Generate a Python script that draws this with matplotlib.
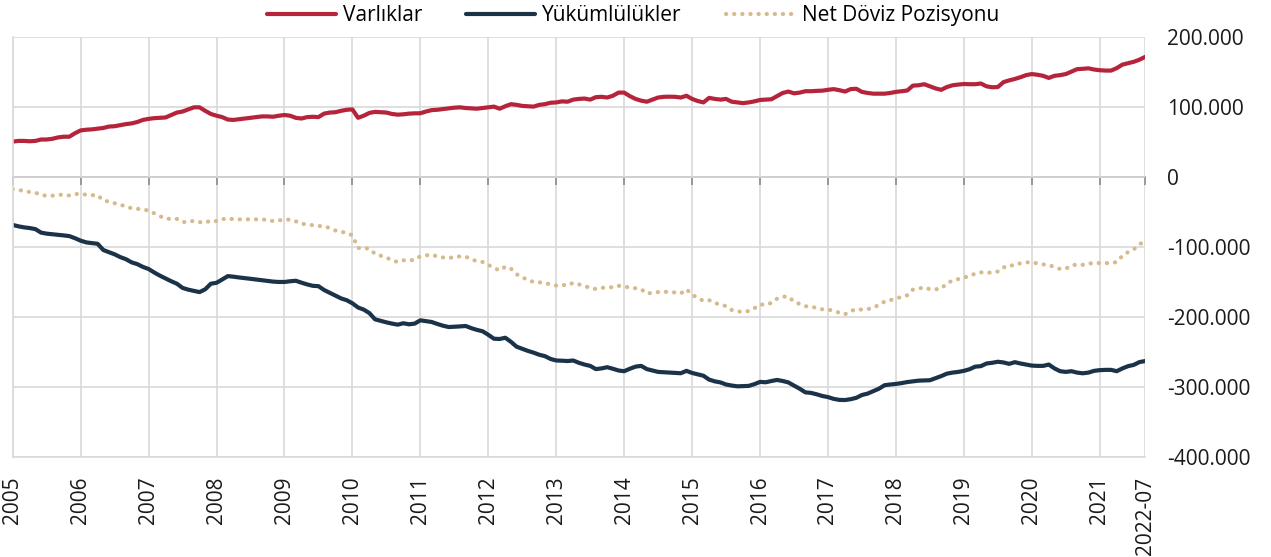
import numpy as np
import matplotlib
matplotlib.use('Agg')
from matplotlib import pyplot as plt
from matplotlib.ticker import FuncFormatter

plt.rcParams['font.family'] = ['Open Sans', 'DejaVu Sans']
plt.rcParams['font.size'] = 15

# aylık seriler (bin), 2005-01 ... son gözlem
varliklar = [
    51, 52, 52, 51.5, 52, 54, 54, 55, 57, 58, 58, 63,
    67, 68, 68.5, 69.5, 70.5, 72.5, 73, 74.5, 76, 77, 79, 82,
    83.5, 84.5, 85, 85.5, 89, 92.5, 94, 97, 100, 100, 95, 90.5,
    88, 86, 82.5, 82, 83, 84, 85, 86, 87, 87, 86.5, 88,
    89, 88, 85, 84, 86, 86.5, 86, 91, 92.5, 93, 95, 96.5,
    97, 85, 88, 92, 93.5, 93, 92.5, 90.5, 89.5, 90, 91, 91.4,
    91.5, 94, 96, 96.5, 97.5, 98.5, 99.5, 100, 99, 98.5, 98, 99,
    100, 101, 98, 101.5, 104.5, 103.5, 102, 101.5, 101, 103.5, 104.5, 106.5,
    107, 108.5, 108, 111, 112, 112.5, 111, 114.5, 115, 114, 116.5, 121,
    121, 116, 112, 109.5, 108, 111, 114, 115, 115.2, 115, 114, 116.5,
    112, 109, 107, 113.5, 112, 111, 112, 108, 107, 106, 107, 108.5,
    110.5, 111, 111.5, 116, 120.5, 122.5, 120, 121, 123, 123, 123.5, 123.8,
    125, 126, 124.5, 122.5, 126, 126.5, 122, 120.5, 119.5, 119.5, 119.5, 120.5,
    122, 123, 124, 131, 131.5, 133, 130, 127, 125, 129, 131.5, 132.5,
    133.3, 133, 133, 134, 130, 128.6, 129, 136, 138.5, 140.5, 143, 146,
    147.5, 146.5, 145, 142, 145, 146, 147.5, 151, 154.5, 155, 155.7, 154,
    153, 152.5, 152.5, 156, 161, 163, 165, 168, 172,
]
yukumlulukler = [
    -68, -70, -71.5, -72.5, -74, -79, -80.5, -81.3, -82, -83, -84, -87,
    -90.5, -93, -94, -95, -103.8, -107, -110, -114, -117, -121.5, -124, -128,
    -131, -136, -140.5, -144.5, -148.5, -152, -158, -160.5, -162.2, -164, -160, -152,
    -150.7, -146, -141.1, -142, -143.1, -144, -145, -146, -147, -148, -149, -149.5,
    -149.5, -148.5, -147.8, -150.5, -153, -155, -155.5, -161, -165, -169, -173, -175.6,
    -180, -186, -189, -194, -202.9, -205, -207.2, -209, -210.5, -208.5, -210, -209,
    -204.3, -205.5, -206.7, -209.5, -212, -213.9, -213.5, -213, -212.4, -215.5, -218, -220,
    -225, -230.6, -231, -229.2, -235, -242, -245, -248, -250.5, -253.5, -255.5, -259.5,
    -261.7, -262, -262.5, -261.7, -265, -267.5, -269.4, -274, -273, -271.3, -273.5, -276,
    -277, -273.5, -270.5, -269.4, -274, -276, -278, -278.5, -279, -279.5, -279.9, -276.5,
    -279.5, -281.5, -283.5, -289, -291.5, -293, -296, -297.5, -298.6, -298.3, -298, -295.5,
    -292.3, -292.8, -291, -289.5, -291, -293, -297.6, -302, -307.2, -308, -310, -312.4,
    -314, -316.5, -318, -318.2, -317, -315, -311, -309, -305.5, -302, -297, -296,
    -295.2, -294, -292.5, -291.5, -290.5, -290.2, -289.9, -287, -284, -280.5, -279, -278,
    -276.5, -274.2, -270.5, -269.8, -266, -265, -263.5, -264.5, -266.5, -264.1, -266, -267.5,
    -269, -269.4, -269.4, -267.5, -273, -277, -278, -277, -279, -280, -279, -276.5,
    -275.5, -275.1, -275.1, -277, -273, -269.8, -268, -264, -262.5,
]
tick_labels = ['2005', '2006', '2007', '2008', '2009', '2010', '2011', '2012', '2013',
               '2014', '2015', '2016', '2017', '2018', '2019', '2020', '2021', '2022-07']
tick_pos = list(range(0, 193, 12)) + [200]

# net pozisyon = varlıklar + yükümlülükler
varliklar = np.array(varliklar)
yukumlulukler = np.array(yukumlulukler)
net = varliklar + yukumlulukler
x = np.arange(len(varliklar))

fig = plt.figure(figsize=(12.71, 5.57), dpi=100)
ax = fig.add_axes([0.010, 0.179, 0.8909, 0.754])

ax.plot(x, varliklar, color='#B5243A', lw=3.0, label='Varlıklar', solid_capstyle='round')
ax.plot(x, yukumlulukler, color='#1B3349', lw=3.0, label='Yükümlülükler', solid_capstyle='round')
ax.plot(x, net, color='#D6BA8E', lw=3.0, linestyle=(0, (0.05, 1.9)),
        dash_capstyle='round', label='Net Döviz Pozisyonu')

ax.set_xlim(0, 200)
ax.set_ylim(-400, 200)
ax.set_yticks(range(-400, 201, 100))
ax.yaxis.set_major_formatter(FuncFormatter(lambda v, p: '{:,}'.format(int(round(v * 1000))).replace(',', '.')))
ax.yaxis.tick_right()
ax.tick_params(axis='y', length=0, pad=16, labelsize=15, colors='#1a1a1a')

ax.set_xticks(tick_pos)
ax.set_xticklabels(tick_labels)
ax.tick_params(axis='x', bottom=False, top=True, labeltop=False, labelbottom=True,
               direction='in', length=6, width=1.2, color='#8c8c8c',
               pad=14, labelsize=15, labelcolor='#1a1a1a', labelrotation=90)

ax.grid(True, color='#d9d9d9', lw=1.2)
ax.set_axisbelow(True)
ax.spines['right'].set_visible(False)
ax.spines['left'].set_color('#d9d9d9')
ax.spines['bottom'].set_color('#d9d9d9')
ax.spines['left'].set_linewidth(1.2)
ax.spines['bottom'].set_linewidth(1.2)
# sıfır çizgisi
ax.spines['top'].set_position(('data', 0))
ax.spines['top'].set_color('#8c8c8c')
ax.spines['top'].set_linewidth(1.2)
ax.spines['top'].set_zorder(0.5)

fig.legend(loc='upper center', bbox_to_anchor=(0.498, 1.025), ncol=3, frameon=False,
           handlelength=3.3, handletextpad=0.35, columnspacing=2.1, fontsize=15)

plt.savefig('out.png', dpi=100)
